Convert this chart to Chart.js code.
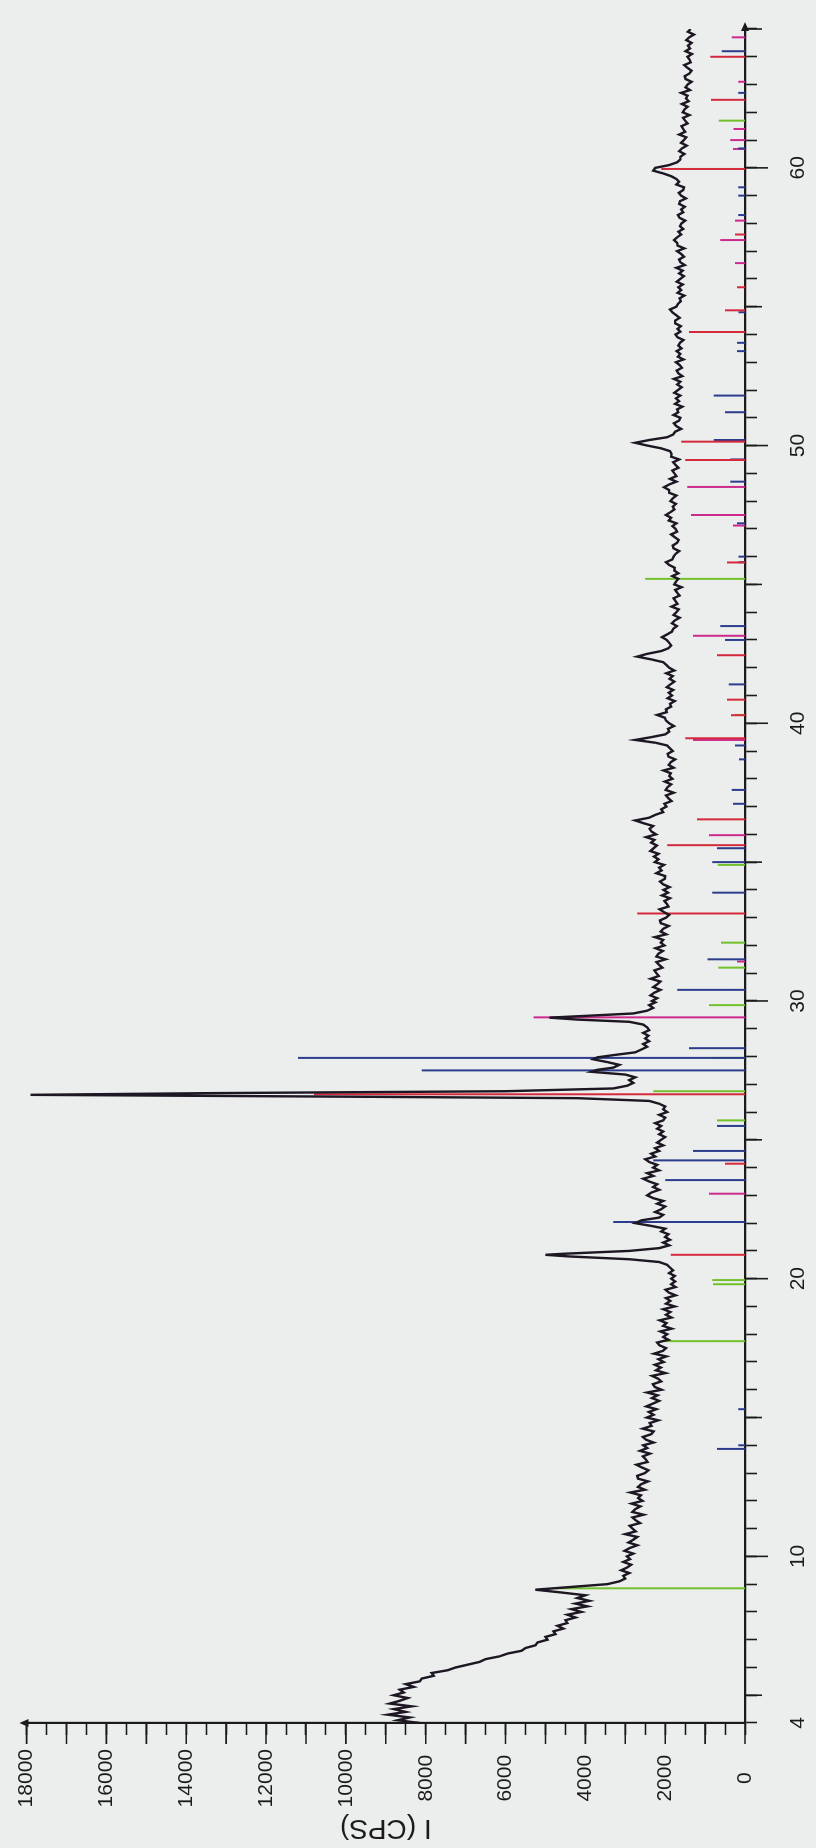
<!DOCTYPE html>
<html>
<head>
<meta charset="utf-8">
<title>XRD pattern</title>
<script src="https://cdn.jsdelivr.net/npm/chart.js@4.4.1/dist/chart.umd.min.js"></script>
<style>
  html, body { margin: 0; padding: 0; background: #eceeed; }
  body { width: 816px; height: 1848px; overflow: hidden; position: relative; }
  /* the plot is drawn landscape and turned a quarter turn, like the scanned page */
  #wrap {
    position: absolute; left: 0; top: 0; width: 1848px; height: 816px;
    transform-origin: 0 0; transform: translateY(1848px) rotate(-90deg);
  }
</style>
</head>
<body>
<div id="wrap"><canvas id="xrd" width="1848" height="816"></canvas></div>
<script>
// tick labels
const angleLabels = [4, 10, 20, 30, 40, 50, 60];
const countLabels = [0, 2000, 4000, 6000, 8000, 10000, 12000, 14000, 16000, 18000];

// measured scan: [2theta, counts]
const scan = [
  [4.0,8150],[4.1,8700],[4.2,8400],[4.3,8950],[4.4,8500],[4.5,8800],[4.6,8350],[4.7,8900],[4.8,8650],[4.9,8450],
  [5.0,8800],[5.1,8550],[5.2,8650],[5.3,8300],[5.4,8500],[5.5,8150],[5.6,8100],[5.7,7800],[5.8,7850],[5.9,7450],
  [6.0,7250],[6.1,6950],[6.2,6650],[6.3,6500],[6.4,6150],[6.5,5950],[6.6,5600],[6.7,5500],[6.8,5250],[6.9,5200],
  [7.0,4950],[7.1,5000],[7.2,4750],[7.3,4800],[7.4,4550],[7.5,4700],[7.6,4450],[7.7,4500],[7.8,4250],[7.9,4450],
  [8.0,4100],[8.1,4350],[8.2,3950],[8.3,4250],[8.4,3900],[8.5,4200],[8.6,4000],[8.7,4600],[8.8,5250],[8.9,4350],
  [9.0,3450],[9.1,3150],[9.2,3000],[9.3,3050],[9.4,2900],[9.5,3100],[9.6,2950],[9.7,2850],[9.8,3050],[9.9,2880],
  [10.0,2960],[10.1,2800],[10.2,3020],[10.3,2890],[10.4,2700],[10.5,2920],[10.6,2800],[10.7,2700],[10.8,3000],[10.9,2740],
  [11.0,2820],[11.1,2890],[11.2,2630],[11.3,2740],[11.4,2820],[11.5,2540],[11.6,2820],[11.7,2750],[11.8,2620],[11.9,2840],
  [12.0,2570],[12.1,2680],[12.2,2610],[12.3,2870],[12.4,2510],[12.5,2680],[12.6,2600],[12.7,2430],[12.8,2680],[12.9,2700],
  [13.0,2510],[13.1,2420],[13.2,2580],[13.3,2720],[13.4,2440],[13.5,2490],[13.6,2560],[13.7,2380],[13.8,2630],[13.9,2450],
  [14.0,2550],[14.1,2290],[14.2,2480],[14.3,2560],[14.4,2350],[14.5,2290],[14.6,2560],[14.7,2340],[14.8,2390],[14.9,2170],
  [15.0,2460],[15.1,2290],[15.2,2410],[15.3,2220],[15.4,2470],[15.5,2310],[15.6,2150],[15.7,2330],[15.8,2190],[15.9,2450],
  [16.0,2090],[16.1,2260],[16.2,2310],[16.3,2100],[16.4,2180],[16.5,2330],[16.6,1990],[16.7,2230],[16.8,2110],[16.9,2260],
  [17.0,2040],[17.1,2170],[17.2,1970],[17.3,2280],[17.4,2060],[17.5,1980],[17.6,2140],[17.7,2200],[17.8,1920],[17.9,2050],
  [18.0,1950],[18.1,2120],[18.2,1840],[18.3,2050],[18.4,1970],[18.5,2140],[18.6,1840],[18.7,1980],[18.8,1870],[18.9,2050],
  [19.0,1760],[19.1,1980],[19.2,1870],[19.3,1980],[19.4,1740],[19.5,1910],[19.6,1990],[19.7,1740],[19.8,1850],[19.9,1750],
  [20.0,1850],[20.1,1760],[20.2,1900],[20.3,1800],[20.4,1880],[20.5,1950],[20.6,2150],[20.7,2900],[20.8,4400],[20.86,5000],
  [20.9,4500],[21.0,2900],[21.1,2150],[21.2,1900],[21.3,2050],[21.4,1880],[21.5,2000],[21.6,1920],[21.7,2100],[21.8,2000],
  [21.9,2350],[22.0,2750],[22.1,2600],[22.2,2150],[22.3,2050],[22.4,2250],[22.5,2100],[22.6,2000],[22.7,2200],[22.8,2050],
  [22.9,2300],[23.0,2450],[23.1,2350],[23.2,2150],[23.3,2300],[23.4,2200],[23.5,2400],[23.6,2550],[23.7,2300],[23.8,2450],
  [23.9,2150],[24.0,2300],[24.1,2200],[24.2,2400],[24.3,2500],[24.4,2250],[24.5,2350],[24.6,2150],[24.7,2250],[24.8,2050],
  [24.9,2200],[25.0,2100],[25.1,2000],[25.2,2150],[25.3,2050],[25.4,2200],[25.5,2100],[25.6,2250],[25.7,2050],[25.8,2000],
  [25.9,2150],[26.0,1950],[26.1,2050],[26.2,2000],[26.3,2150],[26.4,2400],[26.5,4200],[26.55,9500],[26.62,17900],[26.68,13500],
  [26.75,6000],[26.85,3300],[26.95,2950],[27.05,2800],[27.15,2900],[27.25,2750],[27.35,3000],[27.45,3850],[27.52,3700],[27.6,3300],
  [27.7,3150],[27.8,3450],[27.9,3800],[27.97,3700],[28.05,3300],[28.15,2750],[28.25,2600],[28.35,2450],[28.45,2550],[28.55,2400],
  [28.65,2500],[28.75,2420],[28.85,2550],[28.95,2400],[29.05,2450],[29.15,2550],[29.25,2900],[29.33,4200],[29.4,4900],[29.47,3900],
  [29.55,2800],[29.65,2450],[29.75,2300],[29.85,2400],[29.95,2250],
  [30.0,2330],[30.1,2200],[30.2,2370],[30.3,2270],[30.4,2120],[30.5,2300],[30.6,2200],[30.7,2120],[30.8,2360],[30.9,2160],
  [31.0,2220],[31.1,2270],[31.2,2070],[31.3,2150],[31.4,2220],[31.5,1990],[31.6,2220],[31.7,2170],[31.8,2060],[31.9,2240],
  [32.0,2020],[32.1,2110],[32.2,2050],[32.3,2260],[32.4,1970],[32.5,2110],[32.6,2050],[32.7,1910],[32.8,2110],[32.9,2130],
  [33.0,1980],[33.1,1900],[33.2,2030],[33.3,2140],[33.4,1920],[33.5,1960],[33.6,2020],[33.7,1880],[33.8,2080],[33.9,1930],
  [34.0,2040],[34.1,1890],[34.2,2050],[34.3,2130],[34.4,2010],[34.5,2000],[34.6,2220],[34.7,2090],[34.8,2150],[34.9,2030],
  [35.0,2260],[35.1,2170],[35.2,2280],[35.3,2170],[35.4,2370],[35.5,2290],[35.6,2210],[35.7,2350],[35.8,2270],[35.9,2480],
  [36.0,2230],[36.1,2340],[36.2,2390],[36.3,2300],[36.4,2540],[36.5,2750],[36.6,2400],[36.7,2250],[36.8,2050],[36.9,2100],
  [37.0,1970],[37.1,2020],[37.2,1840],[37.3,1920],[37.4,1980],[37.5,1790],[37.6,1990],[37.7,1940],[37.8,1850],[37.9,2010],
  [38.0,1820],[38.1,1900],[38.2,1860],[38.3,2040],[38.4,1790],[38.5,1910],[38.6,1860],[38.7,1750],[38.8,1920],[38.9,1940],
  [39.0,1810],[39.1,1880],[39.2,1950],[39.3,2250],[39.4,2750],[39.5,2350],[39.6,2000],[39.7,1900],[39.8,1930],[39.9,1780],
  [40.0,1900],[40.1,1980],[40.2,2010],[40.3,2200],[40.4,1960],[40.5,1980],[40.6,1850],[40.7,1880],[40.8,1760],[40.9,1940],
  [41.0,1830],[41.1,1910],[41.2,1800],[41.3,1960],[41.4,1870],[41.5,1770],[41.6,1890],[41.7,1810],[41.8,1970],[41.9,1770],
  [42.0,1900],[42.1,1970],[42.2,2050],[42.3,2350],[42.4,2700],[42.5,2450],[42.6,2100],[42.7,1920],[42.8,1850],[42.9,1900],
  [43.0,1960],[43.1,2080],[43.2,1950],[43.3,1830],[43.4,1800],[43.5,1710],[43.6,1830],[43.7,1760],[43.8,1640],[43.9,1790],
  [44.0,1720],[44.1,1660],[44.2,1840],[44.3,1690],[44.4,1740],[44.5,1790],[44.6,1640],[44.7,1700],[44.8,1750],[44.9,1590],
  [45.0,1770],[45.1,1730],[45.2,1670],[45.3,1820],[45.4,1670],[45.5,1770],[45.6,1760],[45.7,1900],[45.8,1980],[45.9,1820],
  [46.0,1790],[46.1,1740],[46.2,1650],[46.3,1790],[46.4,1810],[46.5,1700],[46.6,1660],[46.7,1760],[46.8,1850],[46.9,1700],
  [47.0,1740],[47.1,1820],[47.2,1720],[47.3,1910],[47.4,1850],[47.5,1980],[47.6,1870],[47.7,1770],[47.8,1810],[47.9,1730],
  [48.0,1870],[48.1,1810],[48.2,1720],[48.3,1900],[48.4,1900],[48.5,2030],[48.6,1900],[48.7,1720],[48.8,1880],[48.9,1720],
  [49.0,1770],[49.1,1820],[49.2,1670],[49.3,1740],[49.4,1800],[49.5,1650],[49.6,1850],[49.7,1840],[49.8,1880],[49.9,2100],
  [50.0,2450],[50.1,2750],[50.2,2400],[50.3,1950],[50.4,1800],[50.5,1750],[50.6,1600],[50.7,1720],[50.8,1780],[50.9,1650],
  [51.0,1620],[51.1,1790],[51.2,1670],[51.3,1700],[51.4,1570],[51.5,1750],[51.6,1650],[51.7,1730],[51.8,1620],[51.9,1770],
  [52.0,1680],[52.1,1590],[52.2,1700],[52.3,1620],[52.4,1780],[52.5,1570],[52.6,1670],[52.7,1710],[52.8,1580],[52.9,1640],
  [53.0,1730],[53.1,1540],[53.2,1680],[53.3,1620],[53.4,1710],[53.5,1590],[53.6,1670],[53.7,1630],[53.8,1540],[53.9,1690],
  [54.0,1740],[54.1,1620],[54.2,1690],[54.3,1610],[54.4,1750],[54.5,1750],[54.6,1640],[54.7,1730],[54.8,1820],[54.9,1880],
  [55.0,1720],[55.1,1680],[55.2,1610],[55.3,1640],[55.4,1520],[55.5,1690],[55.6,1600],[55.7,1670],[55.8,1560],[55.9,1710],
  [56.0,1620],[56.1,1530],[56.2,1650],[56.3,1560],[56.4,1720],[56.5,1510],[56.6,1620],[56.7,1650],[56.8,1530],[56.9,1600],
  [57.0,1700],[57.1,1520],[57.2,1690],[57.3,1700],[57.4,1780],[57.5,1700],[57.6,1600],[57.7,1670],[57.8,1550],[57.9,1630],
  [58.0,1590],[58.1,1500],[58.2,1640],[58.3,1680],[58.4,1550],[58.5,1600],[58.6,1510],[58.7,1650],[58.8,1630],[58.9,1480],
  [59.0,1600],[59.1,1660],[59.2,1550],[59.3,1530],[59.4,1720],[59.5,1650],[59.6,1720],[59.7,1850],[59.8,2050],[59.9,2300],
  [60.0,2250],[60.1,1900],[60.2,1700],[60.3,1620],[60.4,1620],[60.5,1520],[60.6,1650],[60.7,1580],[60.8,1460],[60.9,1600],
  [61.0,1530],[61.1,1470],[61.2,1650],[61.3,1500],[61.4,1550],[61.5,1590],[61.6,1440],[61.7,1500],[61.8,1550],[61.9,1390],
  [62.0,1560],[62.1,1520],[62.2,1440],[62.3,1580],[62.4,1410],[62.5,1480],[62.6,1440],[62.7,1600],[62.8,1380],[62.9,1490],
  [63.0,1440],[63.1,1340],[63.2,1490],[63.3,1510],[63.4,1390],[63.5,1340],[63.6,1440],[63.7,1520],[63.8,1360],[63.9,1390],
  [64.0,1440],[64.1,1330],[64.2,1490],[64.3,1380],[64.4,1430],[64.5,1340],[64.6,1470],[64.7,1400],[64.8,1280],[64.9,1430],
  [65.0,1360]
];

// reference stick patterns: [2theta, counts]
const redLines = [
  [20.86,1860],[24.14,500],[26.64,10800],[33.15,2700],[35.61,1950],[36.54,1200],[39.46,1500],[40.29,350],
  [40.85,450],[42.45,700],[45.79,450],[49.48,1500],[50.14,1600],[54.09,1400],[54.87,500],[55.7,200],
  [57.6,250],[59.96,2100],[62.45,850],[64.0,870]
];
const blueLines = [
  [13.87,700],[14.0,170],[15.3,170],[22.04,3300],[23.55,2000],[24.26,2300],[24.6,1300],[25.5,700],
  [27.5,8100],[27.95,11200],[28.3,1400],[30.4,1700],[31.5,940],[33.9,820],[35.0,820],[35.5,700],
  [37.1,300],[37.6,330],[38.7,150],[39.2,250],[41.4,410],[43.0,500],[43.5,620],[45.8,160],[46.0,160],
  [47.2,200],[48.7,370],[49.5,370],[50.2,780],[51.2,500],[51.8,780],[53.4,200],[53.7,200],[54.8,160],
  [58.3,170],[59.0,170],[59.3,170],[60.7,170],[62.7,170],[64.2,580]
];
const greenLines = [
  [8.85,4750],[17.75,2030],[19.8,800],[19.95,820],[25.7,700],[26.75,2300],[27.95,800],[29.85,900],
  [31.2,670],[32.1,600],[34.9,680],[40.3,250],[45.2,2500],[61.7,660]
];
const magentaLines = [
  [23.06,900],[29.41,5300],[31.42,200],[35.97,900],[39.40,1300],[43.15,1300],[47.12,300],[47.5,1350],
  [48.51,1450],[56.57,250],[57.4,620],[58.1,250],[60.68,300],[61.0,370],[61.4,290],[63.1,170],[64.7,330]
];

const ink = '#1b1b1b';
const labelFont = { family: '"Liberation Sans", Arial, sans-serif', size: 21 };

// each stick goes from the baseline to its height, with a gap before the next one
function sticks(lines) {
  const pts = [];
  lines.forEach(([pos, h]) => {
    pts.push({ x: pos, y: 0 }, { x: pos, y: h }, { x: pos, y: null });
  });
  return pts;
}

function stickSet(lines, color) {
  return {
    data: sticks(lines),
    borderColor: color,
    borderWidth: 2,
    pointRadius: 0,
    showLine: true,
    spanGaps: false,
    order: 2
  };
}

// longer marks at 5/10 degrees and every 1000 counts, plus the arrow heads
const axisMarks = {
  id: 'axisMarks',
  afterDraw(chart) {
    const { ctx, scales: { x, y } } = chart;
    ctx.save();
    ctx.strokeStyle = ink;
    ctx.fillStyle = ink;
    ctx.lineWidth = 1.6;
    ctx.beginPath();
    for (let a = 5; a <= 65; a += 5) {
      const px = x.getPixelForValue(a);
      ctx.moveTo(px, x.top);
      ctx.lineTo(px, x.top + (a % 10 === 0 ? 23 : 17));
    }
    for (let c = 0; c <= 18000; c += 1000) {
      const py = y.getPixelForValue(c);
      ctx.moveTo(y.right, py);
      ctx.lineTo(y.right - 21, py);
    }
    ctx.stroke();

    const yTop = y.getPixelForValue(18000);
    ctx.beginPath();
    ctx.moveTo(y.right, yTop - 7);
    ctx.lineTo(y.right - 4, yTop + 2);
    ctx.lineTo(y.right + 4, yTop + 2);
    ctx.fill();

    const xEnd = x.getPixelForValue(65);
    ctx.beginPath();
    ctx.moveTo(xEnd + 7, x.top);
    ctx.lineTo(xEnd - 2, x.top - 4);
    ctx.lineTo(xEnd - 2, x.top + 4);
    ctx.fill();
    ctx.restore();
  }
};

new Chart(document.getElementById('xrd'), {
  type: 'scatter',
  data: {
    datasets: [
      {
        data: scan.map(([a, c]) => ({ x: a, y: c })),
        borderColor: '#1d1623',
        borderWidth: 2.4,
        pointRadius: 0,
        showLine: true,
        order: 0
      },
      stickSet(redLines, '#d42a3c'),
      stickSet(blueLines, '#2c3c8c'),
      stickSet(greenLines, '#72c02c'),
      stickSet(magentaLines, '#cc2a8c')
    ]
  },
  options: {
    responsive: false,
    animation: false,
    devicePixelRatio: 1,
    layout: { padding: { top: 18, right: 15, left: 0, bottom: 0 } },
    plugins: { legend: { display: false }, tooltip: { enabled: false } },
    scales: {
      x: {
        type: 'linear',
        min: 4,
        max: 65,
        afterFit: (s) => { s.height = 71; },
        afterBuildTicks: (s) => {
          const t = [];
          for (let a = 4; a <= 65; a++) t.push({ value: a });
          s.ticks = t;
        },
        ticks: {
          autoSkip: false,
          maxRotation: 0,
          minRotation: 0,
          padding: 29,
          color: ink,
          font: labelFont,
          callback: (v) => angleLabels.includes(v) ? String(v) : ''
        },
        grid: { drawOnChartArea: false, tickLength: 12, tickColor: ink, tickWidth: 1.6 },
        border: { display: true, color: ink, width: 2.2 }
      },
      y: {
        type: 'linear',
        min: 0,
        max: 18000,
        afterFit: (s) => { s.width = 125; },
        afterBuildTicks: (s) => {
          const t = [];
          for (let c = 0; c <= 18000; c += 500) t.push({ value: c });
          s.ticks = t;
        },
        ticks: {
          autoSkip: false,
          crossAlign: 'center',
          padding: 14,
          color: ink,
          font: labelFont,
          callback: (v) => countLabels.includes(v) ? String(v) : ''
        },
        grid: { drawOnChartArea: false, tickLength: 12, tickColor: ink, tickWidth: 1.6 },
        border: { display: true, color: ink, width: 2.2 },
        title: {
          display: true,
          text: 'I (CPS)',
          color: ink,
          font: { family: '"Liberation Sans", Arial, sans-serif', size: 28 },
          padding: { top: 3, bottom: 0 }
        }
      }
    }
  },
  plugins: [axisMarks]
});
</script>
</body>
</html>
